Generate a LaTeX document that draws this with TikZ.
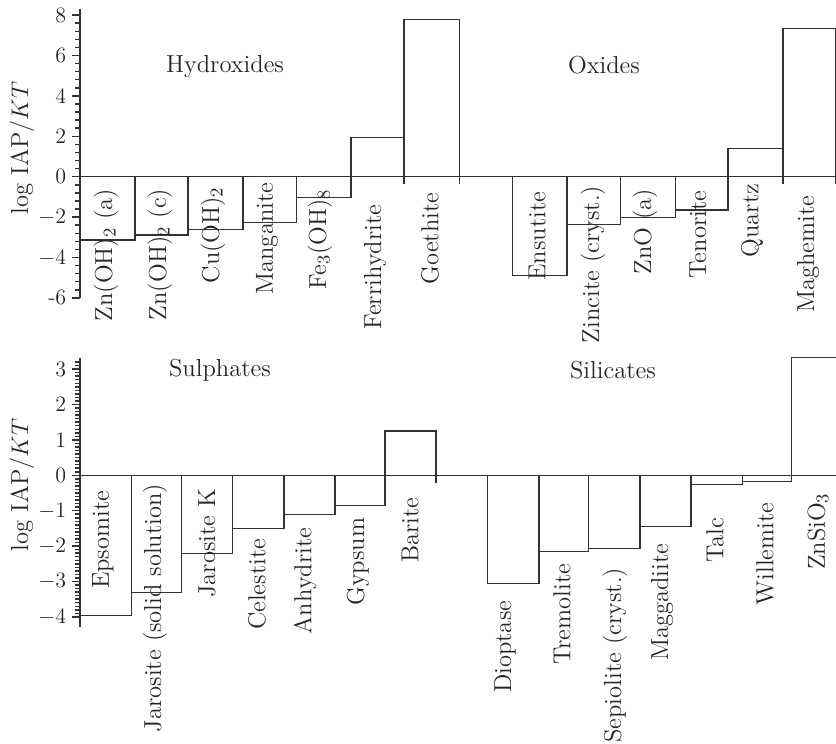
\documentclass[tikz,border=0pt]{standalone}
\begin{document}
\begin{tikzpicture}[x=0.5pt,y=-0.5pt,line width=0.75pt,
  color=black!80,
  font=\fontsize{12.3}{14}\selectfont,
  lab/.style={rotate=90,anchor=east,inner sep=0pt,text=black!85},
  ttl/.style={inner sep=0pt,text=black!85},
  num/.style={anchor=east,inner sep=0pt,font=\fontsize{11}{13}\selectfont,text=black!85},
  ylab/.style={rotate=90,inner sep=0pt,text=black!85}]
\useasboundingbox (0,0) rectangle (836,744);

% ===== top panel =====
\draw (80,9) -- (80,298);
\draw (80,176.7) -- (836,176.7);
\foreach \v in {8,6,4,2,0,-2,-4}
  \draw (72,{176.7-20.2*\v}) -- (80,{176.7-20.2*\v});
\draw (72,297.9) -- (80,297.9);
\foreach \i in {0,...,35}
  \draw (75,{297.9-8.08*\i}) -- (80,{297.9-8.08*\i});
\foreach \v/\t in {8/8,6/6,4/4,2/2,0/0,-2/$-$2,-4/$-$4,-6/-6}
  \node[num] (t\v) at (67,{176.7-20.2*\v}) {\t};
\node[ylab] (yl1) at (22,148) {log IAP/$KT$};

\node[ttl] (hyd) at (225,66) {Hydroxides};
\node[ttl] (oxi) at (604,65) {Oxides};

% hydroxide bars
\draw (80,176.7) rectangle (135,240);
\draw (135,176.7) rectangle (188,235);
\draw (188,176.7) rectangle (243,229.3);
\draw (243,176.7) rectangle (296.5,222.7);
\draw (296.5,176.7) rectangle (351,197.7);
\draw (351,176.7) rectangle (404,137.3);
\draw (404,176.7) rectangle (459.5,19.3);
\draw (404,176.7) -- (404,184);
\draw (459.5,176.7) -- (459.5,184);
% oxide bars
\draw (512.3,176.7) rectangle (567,275.3);
\draw (567,176.7) rectangle (620.3,224.3);
\draw (620.3,176.7) rectangle (675.3,217.3);
\draw (675.3,176.7) rectangle (728,210);
\draw (728,176.7) rectangle (783,148.7);
\draw (783,176.7) rectangle (835.4,28.7);
\draw (783,176.7) -- (783,184);
\draw (835.4,176.7) -- (835.4,184);

\node[lab] (l1) at (106,188) {Zn(OH)$_2$ (a)};
\node[lab] (l2) at (160,188) {Zn(OH)$_2$ (c)};
\node[lab] (l3) at (213,186) {Cu(OH)$_2$};
\node[lab] (l4) at (267,182) {Manganite};
\node[lab] (l5) at (320,188) {Fe$_3$(OH)$_8$};
\node[lab] (l6) at (375,204) {Ferrihydrite};
\node[lab] (l7) at (430,192) {Goethite};
\node[lab] (l8) at (537,191) {Ensutite};
\node[lab] (l9) at (593,185) {Zincite (cryst.)};
\node[lab] (l10) at (645,188) {ZnO (a)};
\node[lab] (l11) at (698,190) {Tenorite};
\node[lab] (l12) at (752,183) {Quartz};
\node[lab] (l13) at (808,195) {Maghemite};

% ===== bottom panel =====
\draw (80,358) -- (80,627);
\draw (80,475.3) -- (836,475.3);
\foreach \v in {3,2,1,0,-1,-2,-3,-4}
  \draw (72,{475.3-35.4*\v}) -- (80,{475.3-35.4*\v});
\foreach \i in {0,...,72}
  \draw (75,{616.9-3.54*\i}) -- (80,{616.9-3.54*\i});
\foreach \v/\t/\n in {3/3/a,2/2/b,1/1/c,0/0/d,-1/$-$1/e,-2/$-$2/f,-3/$-$3/g,-4/$-$4/h}
  \node[num] (b\n) at (67,{475.3-35.4*\v}) {\t};
\node[ylab] (yl2) at (22,485) {log IAP/$KT$};

\node[ttl] (sul) at (220,370) {Sulphates};
\node[ttl] (sil) at (613,370) {Silicates};

% sulphate bars
\draw (80,475.3) rectangle (131.7,615.3);
\draw (131.7,475.3) rectangle (181.7,592.3);
\draw (181.7,475.3) rectangle (232.7,553.3);
\draw (232.7,475.3) rectangle (284,528.7);
\draw (284,475.3) rectangle (335,514.3);
\draw (335,475.3) rectangle (385,505.7);
\draw (385,475.3) rectangle (436,431);
\draw (436,475.3) -- (436,482.7);
% silicate bars
\draw (487.3,475.3) rectangle (539,583.3);
\draw (539,475.3) rectangle (588.3,551.7);
\draw (588.3,475.3) rectangle (640,548.3);
\draw (640,475.3) rectangle (691,526.7);
\draw (691,475.3) rectangle (742.7,484.3);
\draw (742.7,475.3) rectangle (791.7,481.7);
\draw (791.7,475.3) -- (791.7,357.3) -- (836,357.3);

\node[lab] (m1) at (103,490) {Epsomite};
\node[lab] (m2) at (155,483) {Jarosite (solid solution)};
\node[lab] (m3) at (207,488) {Jarosite K};
\node[lab] (m4) at (257,538) {Celestite};
\node[lab] (m5) at (305,527) {Anhydrite};
\node[lab] (m6) at (358,517) {Gypsum};
\node[lab] (m7) at (410,497) {Barite};
\node[lab] (m8) at (505,600) {Dioptase};
\node[lab] (m9) at (562,563) {Tremolite};
\node[lab] (m10) at (615,567) {Sepiolite (cryst.)};
\node[lab] (m11) at (662,543) {Maggadiite};
\node[lab] (m12) at (715,517) {Talc};
\node[lab] (m13) at (765,502) {Willemite};
\node[lab] (m14) at (818,492) {ZnSiO$_3$};
\end{tikzpicture}
\end{document}
